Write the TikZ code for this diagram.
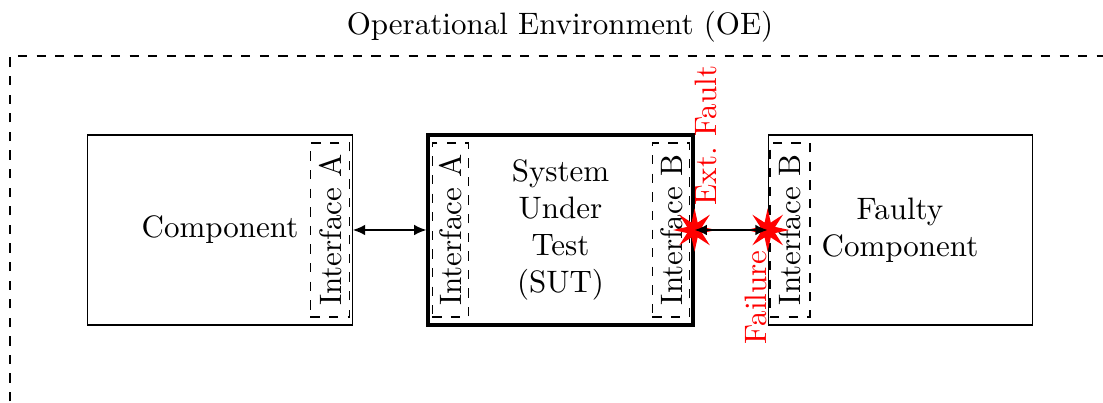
\documentclass[tikz,border=0pt]{standalone}
\usetikzlibrary{shapes.geometric,arrows.meta}
\begin{document}
\begin{tikzpicture}[x=0.3226pt,y=-0.3226pt,
  block/.style={draw,rectangle,inner sep=0pt,minimum width=85.3pt,minimum height=61.3pt},
  iface/.style={draw,dashed,rectangle,inner sep=0pt,minimum width=12.6pt,minimum height=56.1pt},
  ifacetext/.style={rotate=90,inner sep=0pt},
  fault/.style={star,star points=8,star point ratio=2.7,fill=red,draw=none,minimum size=14pt,inner sep=0pt},
  faultlabel/.style={rotate=90,inner sep=0pt,text=red},
  link/.style={semithick,{Latex[length=4pt,width=3.5pt]}-{Latex[length=4pt,width=3.5pt]}}]
\useasboundingbox (0,0) rectangle (1103,403);
\clip (0,0) rectangle (1103,403);

% operational environment
\draw[dashed] (10,420) -- (10,56) -- (1120,56);
\node (oe) at (560,27) {Operational Environment (OE)};

% component
\node[block] (comp) at (220,230) {};
\node (compt) at (220,230) {Component};
\node[iface] (compia) at (330,230) {};
\node[ifacetext] (compiat) at (331,230) {Interface A};

% system under test
\node[block,very thick] (sut) at (560.5,230) {};
\node[align=center] (sutt) at (560.5,230) {System\\Under\\Test\\(SUT)};
\node[iface,minimum width=11.8pt] (sutia) at (450.5,230) {};
\node[ifacetext] (sutiat) at (451,230) {Interface A};
\node[iface,minimum width=12pt] (sutib) at (671,230) {};
\node[ifacetext] (sutibt) at (672,230) {Interface B};

% faulty component
\node[block] (faulty) at (900.5,230) {};
\node[align=center] (faultyt) at (900,230) {Faulty\\Component};
\node[iface,minimum width=12.9pt] (faultyib) at (790,230) {};
\node[ifacetext] (faultyibt) at (790,230) {Interface B};

% faults
\node[fault] (extfault) at (sut.east) {};
\node[fault] (failure) at (faulty.west) {};
\node[faultlabel,anchor=west] (extfaultt) at (706,206) {Ext.\ Fault};
\node[faultlabel,anchor=east] (failuret) at (756,250) {Failure};

% connections
\draw[link] (comp.east) -- (sut.west);
\draw[link] (sut.east) -- (faulty.west);
\end{tikzpicture}
\end{document}
